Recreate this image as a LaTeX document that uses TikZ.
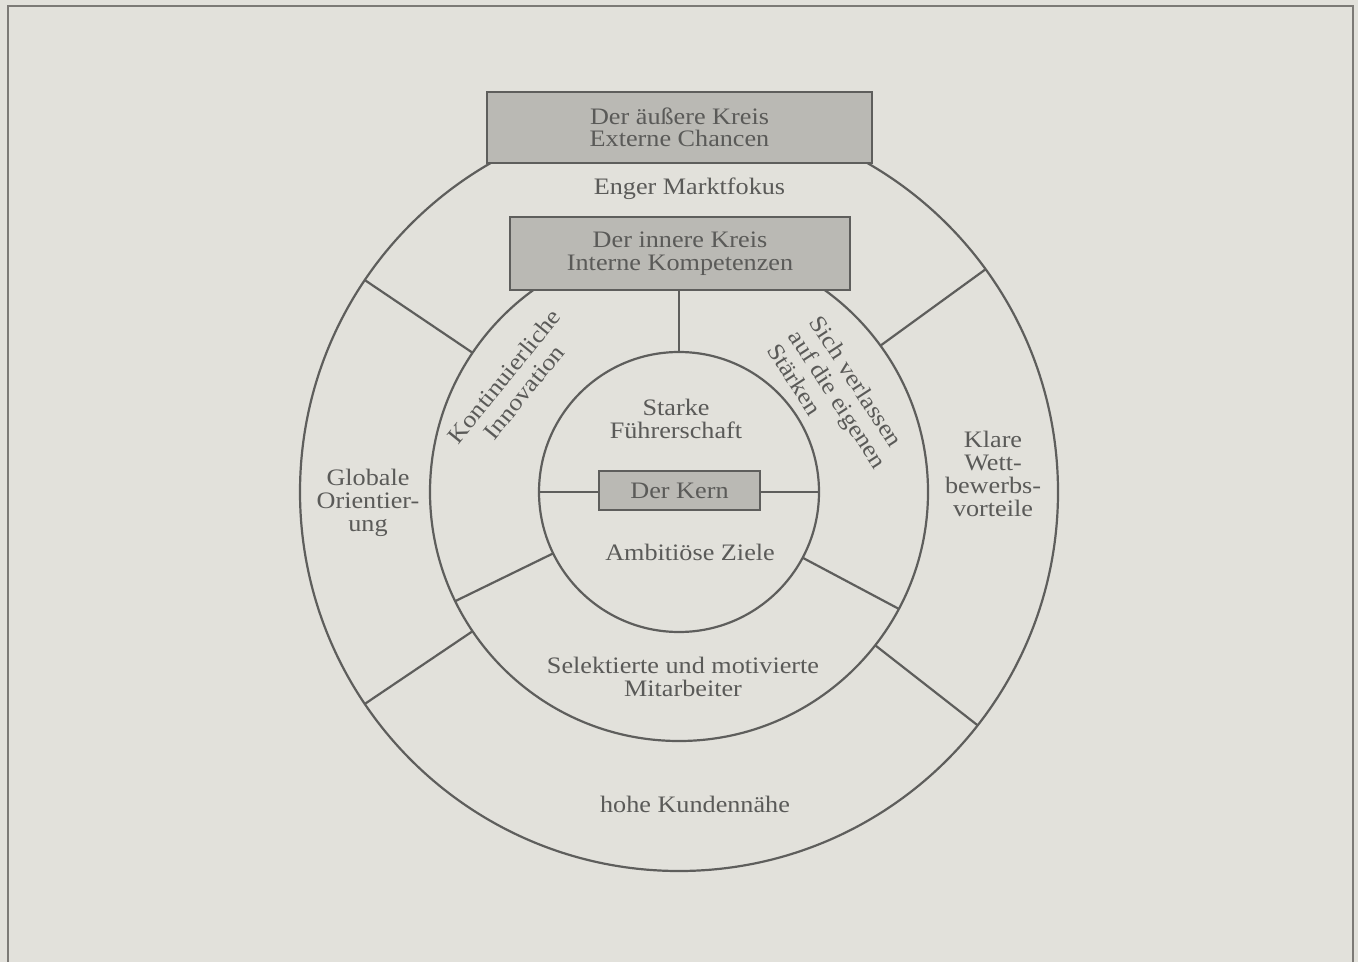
\documentclass[tikz,border=0pt]{standalone}
\usepackage{fontspec}
\setmainfont{Liberation Serif}[FakeStretch=1.11]
\definecolor{paper}{HTML}{E2E1DB}
\definecolor{ink}{HTML}{5E5E5C}
\definecolor{txt}{HTML}{5A5A58}
\definecolor{boxfill}{HTML}{BAB9B4}
\definecolor{framecol}{HTML}{7C7A76}
\begin{document}
\begin{tikzpicture}[x=0.5pt,y=-0.5pt,
  ring/.style={circle, draw=ink, line width=1.1pt, inner sep=0pt, outer sep=0pt},
  spoke/.style={draw=ink, line width=1.1pt},
  lbl/.style={text=txt, font=\fontsize{11.8}{11.5}\selectfont, align=center, inner sep=0pt},
  rlbl/.style={text=txt, font=\fontsize{11.8}{12.6}\selectfont, inner sep=0pt},
  titlebox/.style={draw=ink, fill=boxfill, line width=0.8pt, inner sep=0pt, outer sep=0pt,
    text=txt, font=\fontsize{11.8}{11.3}\selectfont, align=center}]

% paper and frame
\fill[paper] (0,0) rectangle (1358,962);
\useasboundingbox (0,0) rectangle (1358,962);
\draw[framecol, line width=1pt] (8,962) -- (8,6) -- (1353,6) -- (1353,962);

% the three rings
\coordinate (c) at (679,492);
\node[ring, minimum size=379pt] (outer) at (c) {};
\node[ring, minimum size=249pt] (middle) at (c) {};
\node[ring, minimum size=140pt] (inner) at (c) {};

% spokes between the rings
\draw[spoke] (middle.146) -- (outer.146);
\draw[spoke] (middle.36) -- (outer.36);
\draw[spoke] (middle.214) -- (outer.214);
\draw[spoke] (middle.-38) -- (outer.-38);
\draw[spoke] (inner.206) -- (middle.206);
\draw[spoke] (inner.-28) -- (middle.-28);

% title boxes
\node[titlebox, minimum width=192.5pt, minimum height=35.5pt] (obox) at (679.5,127.5)
  {Der äußere Kreis\\Externe Chancen};
\node[titlebox, minimum width=170pt, minimum height=36.5pt] (ibox) at (680,253.5)
  {Der innere Kreis\\Interne Kompetenzen};
\node[titlebox, minimum width=80.5pt, minimum height=19.5pt] (kern) at (679.5,490.5)
  {Der Kern};

% links from the boxes to the core circle
\draw[spoke] (inner.north |- ibox.south) -- (inner.north);
\draw[spoke] (inner.west) -- (kern.west |- inner.west);
\draw[spoke] (kern.east |- inner.east) -- (inner.east);

% ring labels
\node[lbl, anchor=base] (markt) at (689.5,195) {Enger Marktfokus};
\node[lbl] (fuehr) at (676,419) {Starke\\Führerschaft};
\node[lbl, anchor=base] (ziele) at (690,560) {Ambitiöse Ziele};
\node[lbl] (mitarb) at (683,677) {Selektierte und motivierte\\Mitarbeiter};
\node[lbl, anchor=base] (kunde) at (695,812) {hohe Kundennähe};
\node[lbl] (global) at (368,503) {Globale\\Orientier-\\ung};
\node[lbl] (klar) at (993,474) {Klare\\Wett-\\bewerbs-\\vorteile};
\node[rlbl, align=center, rotate=51] (innov) at (514,384) {Kontinuierliche\\Innovation};
\node[rlbl, align=left, rotate=-57] (staerk) at (838,399) {Sich verlassen\\auf die eigenen\\Stärken};
\end{tikzpicture}
\end{document}
